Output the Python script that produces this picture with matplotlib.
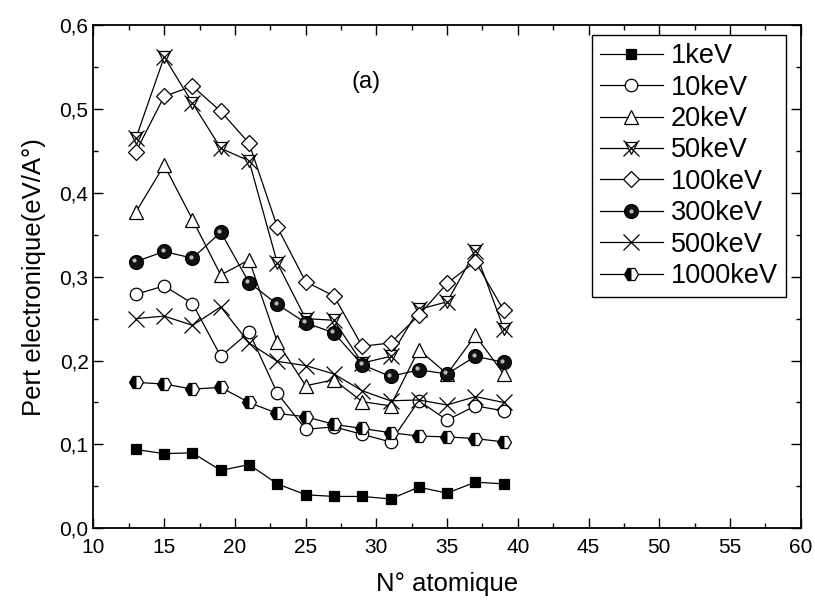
import matplotlib
matplotlib.use("Agg")
import matplotlib.pyplot as plt
from matplotlib.legend_handler import HandlerTuple
from matplotlib.ticker import MultipleLocator, FuncFormatter
from matplotlib.transforms import offset_copy

plt.rcParams['font.family'] = ['Liberation Sans', 'DejaVu Sans']

Z = [13, 15, 17, 19, 21, 23, 25, 27, 29, 31, 33, 35, 37, 39]

e1 = [0.094, 0.089, 0.090, 0.069, 0.076, 0.053, 0.040, 0.038, 0.038, 0.035, 0.049, 0.042, 0.055, 0.053]
e10 = [0.279, 0.289, 0.268, 0.205, 0.234, 0.161, 0.118, 0.121, 0.112, 0.103, 0.152, 0.129, 0.146, 0.140]
e20 = [0.377, 0.433, 0.368, 0.302, 0.320, 0.222, 0.170, 0.177, 0.151, 0.146, 0.213, 0.184, 0.230, 0.184]
e50 = [0.465, 0.562, 0.507, 0.453, 0.438, 0.316, 0.250, 0.248, 0.197, 0.205, 0.261, 0.270, 0.330, 0.238]
e100 = [0.449, 0.515, 0.527, 0.497, 0.459, 0.359, 0.294, 0.277, 0.217, 0.221, 0.254, 0.292, 0.318, 0.260]
e300 = [0.318, 0.330, 0.322, 0.353, 0.293, 0.267, 0.245, 0.233, 0.195, 0.181, 0.189, 0.184, 0.205, 0.198]
e500 = [0.250, 0.253, 0.242, 0.264, 0.221, 0.199, 0.194, 0.184, 0.164, 0.152, 0.153, 0.147, 0.157, 0.150]
e1000 = [0.174, 0.172, 0.166, 0.168, 0.150, 0.137, 0.133, 0.124, 0.119, 0.114, 0.110, 0.109, 0.107, 0.103]

labels = ['1keV', '10keV', '20keV', '50keV', '100keV', '300keV', '500keV', '1000keV']

fig = plt.figure(figsize=(8.15, 6.04), dpi=100)
ax = fig.add_axes([0.1147, 0.1253, 0.8678, 0.8333])

lw = 0.9
ms = 8
kw = dict(color='black', linewidth=lw, markeredgewidth=0.9)

h1, = ax.plot(Z, e1, marker='s', markersize=7.5, markerfacecolor='black', **kw)
h10, = ax.plot(Z, e10, marker='o', markersize=ms + 1, markerfacecolor='white', **kw)
h20, = ax.plot(Z, e20, marker='^', markersize=ms + 2, markerfacecolor='white', **kw)
h50a, = ax.plot(Z, e50, marker='v', markersize=ms + 1, markerfacecolor='white', **kw)
h50b, = ax.plot(Z, e50, marker='x', markersize=ms + 3, linestyle='none', color='black', markeredgewidth=0.9)
h100, = ax.plot(Z, e100, marker='D', markersize=ms, markerfacecolor='white', **kw)
h300a, = ax.plot(Z, e300, marker='o', markersize=ms + 2, markerfacecolor='#111111', **kw)
hl_tr = offset_copy(ax.transData, fig=fig, x=-1.2, y=1.2, units='points')
h300b, = ax.plot(Z, e300, marker='o', markersize=3, linestyle='none', color='#bbbbbb',
                 markeredgewidth=0, transform=hl_tr)
h500, = ax.plot(Z, e500, marker='x', markersize=ms + 4, markerfacecolor='none', **kw)
h1000, = ax.plot(Z, e1000, marker='H', markersize=ms + 2, fillstyle='left',
                 markerfacecolor='black', markerfacecoloralt='white', **kw)

ax.set_xlim(10, 60)
ax.set_ylim(0, 0.6)
ax.xaxis.set_major_locator(MultipleLocator(5))
ax.xaxis.set_minor_locator(MultipleLocator(2.5))
ax.yaxis.set_major_locator(MultipleLocator(0.1))
ax.yaxis.set_minor_locator(MultipleLocator(0.05))
ax.yaxis.set_major_formatter(FuncFormatter(lambda v, p: f"{v:.1f}".replace('.', ',')))
ax.tick_params(which='both', direction='in', top=True, right=True, labelsize=15, width=1.0)
ax.tick_params(which='major', length=7)
ax.tick_params(which='minor', length=3.5)
ax.tick_params(axis='x', pad=7)
for s in ax.spines.values():
    s.set_linewidth(1.3)

ax.set_xlabel('N° atomique', fontsize=18.5, labelpad=11)
ax.set_ylabel('Pert electronique(eV/A°)', fontsize=18.5, labelpad=10)

ax.text(29.3, 0.532, '(a)', fontsize=17, ha='center', va='center')

handles = [h1, h10, h20, (h50a, h50b), h100, (h300a, h300b), h500, h1000]
leg = ax.legend(handles, labels, loc='upper left', bbox_to_anchor=(0.705, 0.98),
                fontsize=19.5, numpoints=1, handlelength=2.3, handletextpad=0.3,
                labelspacing=0.2, borderpad=0.3, borderaxespad=0, fancybox=False, framealpha=1,
                edgecolor='black', handler_map={tuple: HandlerTuple(ndivide=1, pad=0)})
leg.get_frame().set_linewidth(1.0)

fig.savefig('out.png', dpi=100)
